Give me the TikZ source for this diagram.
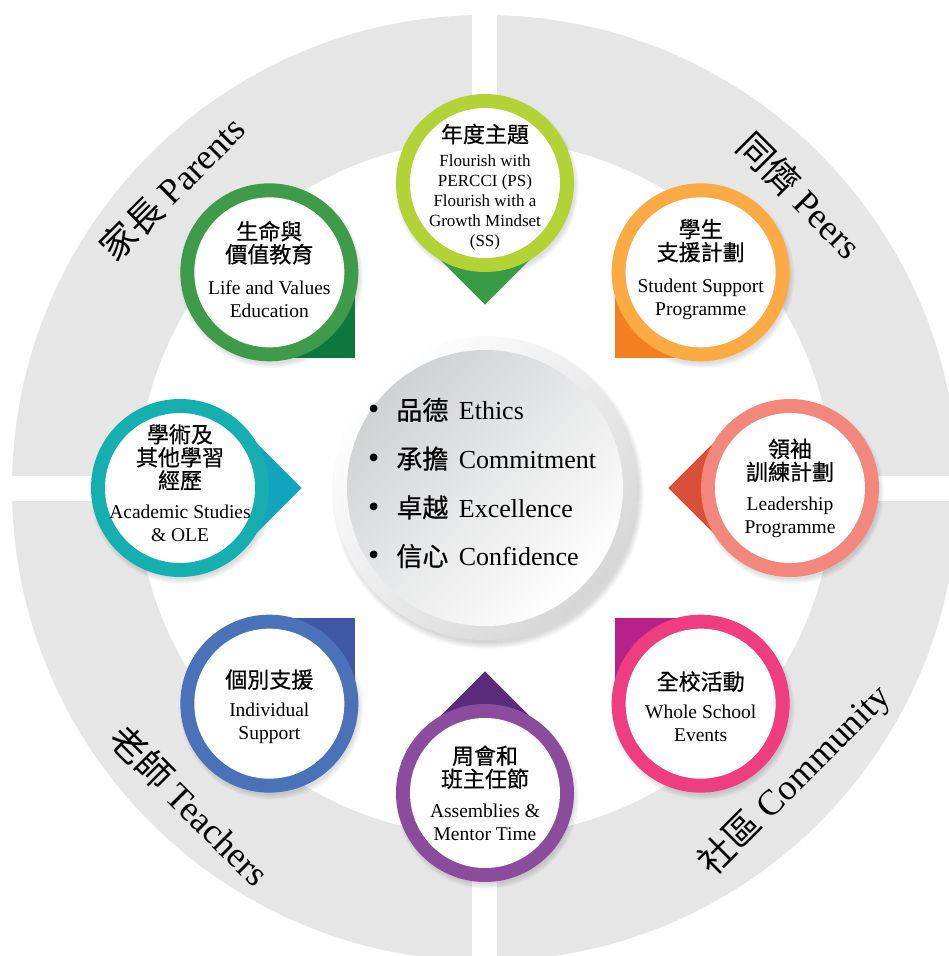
\documentclass[tikz,border=0pt]{standalone}
\usepackage{fontspec}
\setmainfont{Liberation Serif}
\newfontfamily\cjk{Noto Sans CJK TC}
\newfontfamily\cjkm[FakeBold=0.6]{Noto Sans CJK TC}
\newcommand\zhfont{\cjkm\fontsize{22}{23.5}\selectfont}
\newcommand\enfont{\rmfamily\fontsize{19.5}{23}\selectfont}
\newcommand\smfont{\rmfamily\fontsize{17}{20}\selectfont}

\definecolor{ringgrey}{HTML}{E6E6E6}
\definecolor{coretop}{HTML}{D0D1D3}
\definecolor{limering}{HTML}{B2D235}
\definecolor{limeptr}{HTML}{3A9B47}
\definecolor{greenring}{HTML}{3E9B49}
\definecolor{greenptr}{HTML}{0D773D}
\definecolor{orangering}{HTML}{FBAA44}
\definecolor{orangeptr}{HTML}{F47F20}
\definecolor{tealring}{HTML}{16AFAF}
\definecolor{tealptr}{HTML}{12A3BF}
\definecolor{salmonring}{HTML}{F4877C}
\definecolor{salmonptr}{HTML}{DA4F37}
\definecolor{bluering}{HTML}{4A72B8}
\definecolor{blueptr}{HTML}{3E58A7}
\definecolor{purplering}{HTML}{8C4C9E}
\definecolor{purpleptr}{HTML}{5B2B7C}
\definecolor{pinkring}{HTML}{EE3E7E}
\definecolor{pinkptr}{HTML}{B6218A}

\begin{document}
\begin{tikzpicture}[x=1pt,y=1pt,
    sattext/.style={align=center,inner sep=0pt,font=\enfont},
    quadlabel/.style={font=\fontsize{36}{40}\selectfont,inner sep=0pt}]
  \useasboundingbox (-485,-468) rectangle (463,488);

  % outer ring, cut in four
  \fill[ringgrey,even odd rule] (0,0) circle (473) (0,0) circle (348);
  \fill[white] (-12.5,-480) rectangle (12.5,490);
  \fill[white] (-490,-12.5) rectangle (470,12.5);

  % core button
  \foreach \k in {0,...,6}
    \fill[black,opacity=0.025] (3,-5) circle (150+\k);
  \shade[top color=white,bottom color=black!16,shading angle=45] (0,0) circle (152);
  \shade[top color=coretop,bottom color=white,shading angle=45] (0,0) circle (138);

  % satellites with their pointers
  \foreach \a/\ring/\ptr in {90/limering/limeptr,135/greenring/greenptr,
      45/orangering/orangeptr,180/tealring/tealptr,0/salmonring/salmonptr,
      -135/bluering/blueptr,-90/purplering/purpleptr,-45/pinkring/pinkptr}{
    \foreach \k in {0,...,5}
      \fill[black,opacity=0.025,shift={(\a:305)}] (2,-4) circle (87+\k);
    \fill[\ptr,shift={(\a:305)},rotate=\a+135] (0,0) rectangle (86,86);
    \fill[\ring] (\a:305) circle (89);
    \fill[white] (\a:305) circle (75);
  }

  \node[anchor=west,align=left,inner sep=0pt,font=\fontsize{26}{48.7}\selectfont] (core) at (-117,5)
    {{\fontsize{32}{48.7}\selectfont\textbullet}\hspace{17pt}{\cjkm 品德}\hspace{4pt} Ethics\\
     {\fontsize{32}{48.7}\selectfont\textbullet}\hspace{17pt}{\cjkm 承擔}\hspace{4pt} Commitment\\
     {\fontsize{32}{48.7}\selectfont\textbullet}\hspace{17pt}{\cjkm 卓越}\hspace{4pt} Excellence\\
     {\fontsize{32}{48.7}\selectfont\textbullet}\hspace{17pt}{\cjkm 信心}\hspace{4pt} Confidence};

  \node[sattext,font=\smfont] (theme) at (90:301) {\zhfont 年度主題\\[4pt]\smfont Flourish with\\
    \smfont PERCCI (PS)\\\smfont Flourish with a\\\smfont Growth Mindset\\\smfont (SS)};
  \node[sattext,yshift=3pt] (life) at (135:305) {\zhfont 生命與\\\zhfont 價值教育\\[9pt]\enfont Life and Values\\\enfont Education};
  \node[sattext,yshift=3pt] (support) at (45:305) {\zhfont 學生\\\zhfont 支援計劃\\[9pt]\enfont Student Support\\\enfont Programme};
  \node[sattext,yshift=5pt] (academic) at (180:305) {\zhfont 學術及\\\zhfont 其他學習\\\zhfont 經歷\\[7pt]\enfont Academic Studies\\\enfont \& OLE};
  \node[sattext] (leader) at (0:305) {\zhfont 領袖\\\zhfont 訓練計劃\\[7pt]\enfont Leadership\\\enfont Programme};
  \node[sattext,yshift=-3pt] (individual) at (-135:305) {\zhfont 個別支援\\[6pt]\enfont Individual\\\enfont Support};
  \node[sattext] (assembly) at (-90:305) {\zhfont 周會和\\\zhfont 班主任節\\[7pt]\enfont Assemblies \&\\\enfont Mentor Time};
  \node[sattext,yshift=-3pt] (events) at (-45:305) {\zhfont 全校活動\\[6pt]\enfont Whole School\\\enfont Events};

  \node[quadlabel,rotate=45] (parents) at (-313,300) {{\cjk 家長} Parents};
  \node[quadlabel,rotate=-45] (peers) at (315,293) {{\cjk 同儕} Peers};
  \node[quadlabel,rotate=-45] (teachers) at (-295,-317) {{\cjk 老師} Teachers};
  \node[quadlabel,rotate=45] (community) at (310,-292) {{\cjk 社區} Community};
\end{tikzpicture}
\end{document}
